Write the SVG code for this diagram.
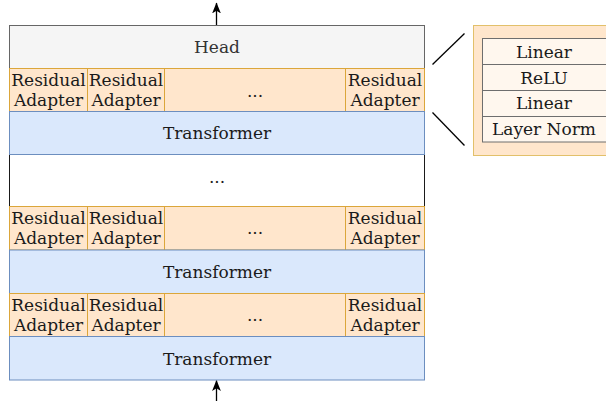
<svg xmlns="http://www.w3.org/2000/svg" width="606" height="401" viewBox="0 0 606 401">
<style>
text{font-family:"DejaVu Serif",serif;font-size:17px;fill:#1a1a1a;text-anchor:middle}
.head{fill:#f5f5f5;stroke:#666666;stroke-width:1}
.ad{fill:#ffe6cc;stroke:#dba63a;stroke-width:1}
.tf{fill:#dae8fc;stroke:#6c8ebf;stroke-width:1}
.gap{fill:#ffffff;stroke:#1a1a1a;stroke-width:1}
.cell{fill:#fff7ee;stroke:#6e6e6e;stroke-width:1}
.ln{stroke:#000;stroke-width:1.3;fill:none}
</style>
<defs>
<marker id="arr" viewBox="0 0 10 8" refX="9.5" refY="4" markerWidth="11" markerHeight="8.8" markerUnits="userSpaceOnUse" orient="auto">
<path d="M0,0 L10,4 L0,8 L2.5,4 Z" fill="#000"/>
</marker>
</defs>
<g id="connectors">
<line class="ln" x1="216.5" y1="25" x2="216.5" y2="3" marker-end="url(#arr)"/>
<line class="ln" x1="216.5" y1="401" x2="216.5" y2="380.5" marker-end="url(#arr)"/>
<line class="ln" x1="432.5" y1="64.5" x2="464.5" y2="33.5"/>
<line class="ln" x1="432.5" y1="112.5" x2="464.5" y2="145.5"/>
</g>
<g id="gap">
<rect class="gap" x="9.5" y="154.5" width="415" height="52"/>
<text x="217" y="183">...</text>
</g>
<g id="head">
<rect class="head" x="9.5" y="25.5" width="415" height="43"/>
<text x="217" y="53" style="fill:#333333">Head</text>
</g>
<g id="adapters1">
<rect class="ad" x="9.5" y="68.5" width="78" height="43"/>
<rect class="ad" x="87.5" y="68.5" width="77" height="43"/>
<rect class="ad" x="164.5" y="68.5" width="181" height="43"/>
<rect class="ad" x="345.5" y="68.5" width="79" height="43"/>
<text x="48.5" y="86">Residual</text><text x="48.5" y="106">Adapter</text>
<text x="126" y="86">Residual</text><text x="126" y="106">Adapter</text>
<text x="255" y="96.5">...</text>
<text x="385" y="86">Residual</text><text x="385" y="106">Adapter</text>
</g>
<g id="transformer1">
<rect class="tf" x="9.5" y="111.5" width="415" height="43"/>
<text x="217" y="139">Transformer</text>
</g>
<g id="adapters2">
<rect class="ad" x="9.5" y="206.5" width="78" height="43.5"/>
<rect class="ad" x="87.5" y="206.5" width="77" height="43.5"/>
<rect class="ad" x="164.5" y="206.5" width="181" height="43.5"/>
<rect class="ad" x="345.5" y="206.5" width="79" height="43.5"/>
<text x="48.5" y="224">Residual</text><text x="48.5" y="244">Adapter</text>
<text x="126" y="224">Residual</text><text x="126" y="244">Adapter</text>
<text x="255" y="233.5">...</text>
<text x="385" y="224">Residual</text><text x="385" y="244">Adapter</text>
</g>
<g id="transformer2">
<rect class="tf" x="9.5" y="250" width="415" height="43.5"/>
<text x="217" y="278">Transformer</text>
</g>
<g id="adapters3">
<rect class="ad" x="9.5" y="293.5" width="78" height="43"/>
<rect class="ad" x="87.5" y="293.5" width="77" height="43"/>
<rect class="ad" x="164.5" y="293.5" width="181" height="43"/>
<rect class="ad" x="345.5" y="293.5" width="79" height="43"/>
<text x="48.5" y="310.5">Residual</text><text x="48.5" y="331">Adapter</text>
<text x="126" y="310.5">Residual</text><text x="126" y="331">Adapter</text>
<text x="255" y="320.5">...</text>
<text x="385" y="310.5">Residual</text><text x="385" y="331">Adapter</text>
</g>
<g id="transformer3">
<rect class="tf" x="9.5" y="336.5" width="415" height="43.5"/>
<text x="217" y="365">Transformer</text>
</g>
<g id="adapter-detail">
<rect class="ad" x="473.5" y="25.5" width="150" height="130" style="stroke:#e2c06a"/>
<rect class="cell" x="482.5" y="38.5" width="130" height="26"/>
<rect class="cell" x="482.5" y="64.5" width="130" height="26"/>
<rect class="cell" x="482.5" y="90.5" width="130" height="26"/>
<rect class="cell" x="482.5" y="116.5" width="130" height="25.5"/>
<text x="544" y="57.5">Linear</text>
<text x="544" y="83.5">ReLU</text>
<text x="544" y="109">Linear</text>
<text x="544" y="135">Layer Norm</text>
</g>
</svg>
